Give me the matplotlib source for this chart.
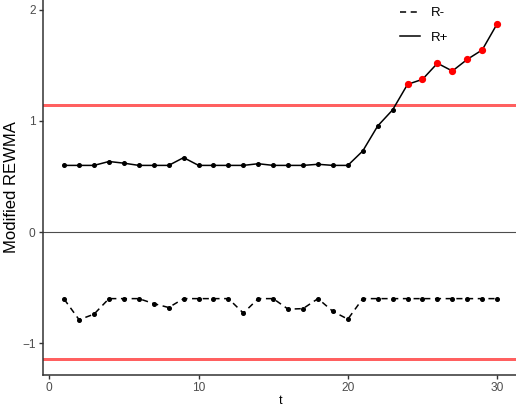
import matplotlib
matplotlib.use("Agg")
import matplotlib.pyplot as plt
from matplotlib.lines import Line2D

plt.rcParams["font.family"] = ["Liberation Sans", "DejaVu Sans"]

# data
t = list(range(1, 31))

r_plus = [0.60, 0.60, 0.60, 0.635, 0.62, 0.60, 0.60, 0.60, 0.67, 0.60,
          0.60, 0.60, 0.60, 0.615, 0.60, 0.60, 0.60, 0.61, 0.60, 0.60,
          0.73, 0.955, 1.10, 1.33, 1.375, 1.52, 1.45, 1.555, 1.64, 1.875]

r_minus = [-0.605, -0.79, -0.74, -0.60, -0.60, -0.60, -0.645, -0.68, -0.60, -0.60,
           -0.60, -0.60, -0.73, -0.60, -0.60, -0.695, -0.69, -0.60, -0.715, -0.785,
           -0.60, -0.60, -0.60, -0.60, -0.60, -0.60, -0.60, -0.60, -0.60, -0.60]

ucl = 1.145
lcl = -1.145

fig = plt.figure(figsize=(5.16, 4.09), dpi=100)
ax = fig.add_axes([0.0824, 0.0831, 0.923, 0.917])

ax.axhline(0, color="#4d4d4d", lw=0.8, zorder=1)
ax.axhline(ucl, color="#ff6060", lw=0.75, antialiased=False, zorder=1)
ax.axhline(lcl, color="#ff6060", lw=0.75, antialiased=False, zorder=1)

ax.plot(t, r_plus, color="black", lw=1.1, zorder=2)
ax.plot(t, r_plus, "o", color="black", ms=2.6, zorder=3)
ax.plot(t, r_minus, color="black", lw=1.1, linestyle=(0, (4, 3)), zorder=2)
ax.plot(t, r_minus, "o", color="black", ms=2.6, zorder=3)

# points above the upper limit are flagged red
out_t = [x for x, v in zip(t, r_plus) if v > ucl]
out_v = [v for v in r_plus if v > ucl]
ax.plot(out_t, out_v, "o", color="red", ms=4.2, zorder=4)

ax.set_xlim(-0.45, 31.45)
ax.set_ylim(-1.288, 2.09)
ax.set_xticks([0, 10, 20, 30])
ax.set_yticks([-1, 0, 1, 2])

for side in ["top", "right"]:
    ax.spines[side].set_visible(False)
for side in ["left", "bottom"]:
    ax.spines[side].set_color("#333333")
    ax.spines[side].set_linewidth(1.1)

ax.tick_params(colors="#333333", length=3, width=1.0, labelsize=8.6,
               labelcolor="#4d4d4d", pad=2)

ax.set_xlabel("t", fontsize=9, labelpad=1)
ax.set_ylabel("Modified REWMA", fontsize=12, labelpad=2)

handles = [
    Line2D([], [], color="black", lw=1.1, linestyle=(0, (4, 3))),
    Line2D([], [], color="black", lw=1.1),
]
fig.legend(handles, ["R-", "R+"], loc="upper left",
           bbox_to_anchor=(0.753, 1.012), frameon=False, fontsize=9.5,
           handlelength=1.5, handletextpad=0.8, labelspacing=0.95)

fig.savefig("out.png", dpi=100)
